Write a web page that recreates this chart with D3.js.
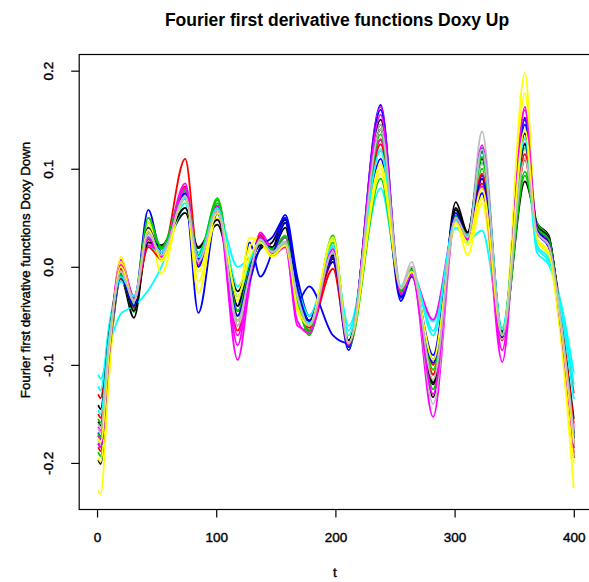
<!DOCTYPE html>
<html>
<head>
<meta charset="utf-8">
<script src="https://cdn.jsdelivr.net/npm/d3@7"></script>
<style>
  body { margin: 0; background: #fff; }
  svg { display: block; }
  text { font-family: "Liberation Sans", Arial, Helvetica, sans-serif; fill: #000; }
  .lbl { stroke: #000; stroke-width: 0.4px; }
</style>
</head>
<body>
<svg id="chart" width="589" height="582"></svg>
<script>
const tKnots = [1, 3, 10, 20, 31, 43, 54, 74, 85, 101, 118, 128, 137, 147, 158, 168, 178, 198, 211, 238, 255, 264, 282, 301, 311, 323, 340, 359, 369, 379, 389, 400];

const black1 = [-0.197,-0.201,-0.100,-0.012,-0.052,0.030,0.020,0.055,0.019,0.043,-0.030,-0.005,0.018,0.025,0.048,-0.015,-0.055,0.010,-0.080,0.145,-0.025,0.000,-0.133,0.066,0.035,0.121,-0.070,0.087,0.045,0.032,-0.062,-0.195];
const red1 = [-0.130,-0.134,-0.066,-0.008,-0.030,0.030,0.010,0.110,0.010,0.062,-0.060,-0.010,0.033,0.015,0.020,-0.030,-0.062,0.005,-0.078,0.130,-0.022,-0.005,-0.110,0.050,0.030,0.090,-0.072,0.109,0.035,0.022,-0.041,-0.129];
const green1 = [-0.155,-0.159,-0.078,-0.005,-0.046,0.045,0.015,0.082,0.008,0.070,-0.050,-0.005,0.025,0.012,0.030,-0.030,-0.070,0.032,-0.080,0.140,-0.025,-0.005,-0.118,0.052,0.030,0.106,-0.070,0.121,0.045,0.030,-0.054,-0.170];
const blue1 = [-0.169,-0.173,-0.085,-0.005,-0.035,0.058,0.015,0.070,-0.047,0.055,-0.040,0.025,-0.010,0.015,0.053,-0.010,-0.050,0.005,-0.085,0.165,-0.032,-0.008,-0.095,0.055,0.025,0.093,-0.070,0.152,0.040,0.025,-0.054,-0.170];
const cyan1 = [-0.110,-0.114,-0.082,-0.048,-0.040,-0.024,0.000,0.060,0.015,0.055,0.000,0.010,0.025,0.018,0.020,-0.020,-0.050,0.015,-0.060,0.080,-0.020,-0.010,-0.056,0.040,0.027,0.037,-0.062,0.125,0.015,0.002,-0.035,-0.108];
const magenta1 = [-0.163,-0.167,-0.082,0.007,-0.032,0.025,0.012,0.080,0.000,0.060,-0.095,-0.020,0.035,0.020,0.022,-0.060,-0.065,0.020,-0.082,0.163,-0.028,-0.005,-0.153,0.050,0.030,0.082,-0.097,0.163,0.038,0.025,-0.056,-0.175];
const yellow1 = [-0.228,-0.232,-0.115,0.010,-0.039,0.040,-0.007,0.075,-0.027,0.058,-0.035,0.030,0.025,0.010,0.020,-0.040,-0.060,0.030,-0.075,0.100,-0.025,-0.008,-0.100,0.045,0.012,0.065,-0.075,0.198,0.030,0.012,-0.072,-0.226];
const gray1 = [-0.177,-0.181,-0.088,-0.003,-0.035,0.030,0.012,0.076,0.008,0.058,-0.055,-0.008,0.028,0.015,0.025,-0.030,-0.062,0.015,-0.078,0.155,-0.020,0.005,-0.125,0.055,0.030,0.138,-0.072,0.120,0.038,0.025,-0.056,-0.175];
const black2 = [-0.158,-0.162,-0.079,-0.008,-0.040,0.035,0.020,0.072,0.012,0.055,-0.040,0.000,0.025,0.018,0.040,-0.035,-0.058,0.008,-0.078,0.150,-0.028,-0.002,-0.118,0.058,0.032,0.110,-0.068,0.136,0.042,0.030,-0.054,-0.170];
const red2 = [-0.184,-0.188,-0.092,-0.012,-0.042,0.028,0.012,0.082,0.005,0.062,-0.065,-0.012,0.030,0.012,0.022,-0.035,-0.065,-0.002,-0.080,0.130,-0.025,-0.005,-0.110,0.048,0.028,0.085,-0.075,0.110,0.035,0.022,-0.061,-0.190];
const green2 = [-0.189,-0.193,-0.095,-0.010,-0.045,0.040,0.018,0.080,0.010,0.065,-0.055,-0.008,0.028,0.016,0.030,-0.030,-0.068,0.025,-0.082,0.090,-0.025,-0.005,-0.125,0.050,0.032,0.100,-0.072,0.093,0.040,0.028,-0.059,-0.185];
const blue2 = [-0.172,-0.176,-0.086,-0.006,-0.038,0.030,0.010,0.070,0.008,0.055,-0.045,-0.015,0.020,0.030,0.050,-0.035,-0.020,-0.070,-0.078,0.110,-0.035,-0.010,-0.090,0.052,0.028,0.075,-0.072,0.145,0.035,0.020,-0.056,-0.175];
const cyan2 = [-0.122,-0.126,-0.061,-0.015,-0.030,0.020,0.015,0.065,0.010,0.058,-0.020,0.005,0.025,0.020,0.022,-0.025,-0.058,0.020,-0.065,0.120,-0.020,-0.005,-0.070,0.045,0.032,0.116,-0.065,0.131,0.020,0.005,-0.038,-0.120];
const magenta2 = [-0.172,-0.176,-0.086,0.005,-0.030,0.022,0.015,0.085,0.002,0.062,-0.070,-0.010,0.032,0.018,0.030,-0.035,-0.060,0.015,-0.078,0.130,-0.025,-0.008,-0.054,0.045,0.028,0.124,-0.068,0.126,0.035,0.022,-0.053,-0.165];
const yellow2 = [-0.195,-0.199,-0.098,0.005,-0.035,0.045,0.005,0.070,-0.015,0.050,-0.025,0.020,0.030,0.012,0.020,-0.045,-0.060,0.028,-0.078,0.095,-0.022,-0.005,-0.105,0.045,0.022,0.070,-0.070,0.177,0.028,0.010,-0.064,-0.200];
const gray2 = [-0.165,-0.169,-0.083,-0.005,-0.038,0.032,0.012,0.074,0.006,0.060,-0.060,-0.010,0.030,0.016,0.026,-0.030,-0.060,0.018,-0.080,0.145,-0.022,0.000,-0.140,0.050,0.030,0.105,-0.074,0.115,0.035,0.022,-0.058,-0.180];
const black3 = [-0.141,-0.145,-0.071,-0.010,-0.045,0.025,0.022,0.060,0.020,0.048,-0.025,0.002,0.022,0.020,0.045,-0.030,-0.055,0.012,-0.075,0.140,-0.030,-0.005,-0.120,0.060,0.035,0.118,-0.066,0.125,0.040,0.028,-0.050,-0.155];
const red3 = [-0.150,-0.154,-0.075,-0.002,-0.035,0.020,0.008,0.078,0.005,0.058,-0.050,-0.005,0.032,0.012,0.025,-0.028,-0.062,0.010,-0.080,0.125,-0.025,-0.005,-0.100,0.050,0.030,0.095,-0.070,0.115,0.036,0.024,-0.051,-0.160];
const green3 = [-0.170,-0.174,-0.085,-0.008,-0.040,0.050,0.020,0.078,0.012,0.068,-0.045,-0.002,0.025,0.018,0.032,-0.035,-0.066,0.030,-0.078,0.135,-0.025,-0.003,-0.105,0.052,0.030,0.112,-0.068,0.097,0.040,0.028,-0.056,-0.175];
const blue3 = [-0.180,-0.184,-0.090,-0.010,-0.040,0.040,0.012,0.075,0.000,0.060,-0.050,-0.005,0.030,0.015,0.045,-0.020,-0.055,0.010,-0.082,0.160,-0.030,-0.008,-0.098,0.055,0.028,0.090,-0.072,0.150,0.038,0.024,-0.058,-0.180];
const cyan3 = [-0.146,-0.150,-0.073,-0.010,-0.030,0.030,0.015,0.070,0.010,0.060,-0.030,0.005,0.025,0.015,0.025,-0.030,-0.060,0.022,-0.070,0.118,-0.022,-0.005,-0.065,0.048,0.030,0.120,-0.064,0.131,0.022,0.008,-0.043,-0.135];
const magenta3 = [-0.180,-0.184,-0.090,0.002,-0.035,0.030,0.010,0.080,0.005,0.058,-0.080,-0.012,0.030,0.012,0.020,-0.055,-0.068,0.018,-0.080,0.155,-0.028,-0.008,-0.130,0.050,0.028,0.082,-0.085,0.160,0.036,0.022,-0.059,-0.185];
const yellow3 = [-0.175,-0.179,-0.088,0.000,-0.035,0.038,0.008,0.072,-0.005,0.055,-0.030,0.010,0.025,0.012,0.022,-0.040,-0.060,0.030,-0.078,0.105,-0.022,-0.005,-0.095,0.045,0.025,0.080,-0.070,0.140,0.030,0.015,-0.058,-0.180];
const gray3 = [-0.160,-0.164,-0.080,-0.005,-0.035,0.035,0.012,0.072,0.005,0.058,-0.055,-0.008,0.028,0.015,0.025,-0.030,-0.060,0.015,-0.078,0.140,-0.022,0.000,-0.115,0.050,0.030,0.120,-0.070,0.110,0.035,0.022,-0.054,-0.170];

const curves = [black1, red1, green1, blue1, cyan1, magenta1, yellow1, gray1,
                black2, red2, green2, blue2, cyan2, magenta2, yellow2, gray2,
                black3, red3, green3, blue3, cyan3, magenta3, yellow3, gray3];

// R's default palette, recycled over the curves
const palette = ["#000000", "#FF0000", "#00CD00", "#0000FF", "#00FFFF", "#FF00FF", "#FFFF00", "#BEBEBE"];

const xTicks = [0, 100, 200, 300, 400];
const yTicks = [-0.2, -0.1, 0, 0.1, 0.2];
const yTickLabels = ["-0.2", "-0.1", "0.0", "0.1", "0.2"];

const svg = d3.select("#chart");
const plot = { left: 79.2, right: 592.8, top: 54.5, bottom: 509.5 };

const x = d3.scaleLinear().domain([-14.96, 415.96]).range([plot.left, plot.right]);
const y = d3.scaleLinear().domain([-0.2475, 0.2165]).range([plot.bottom, plot.top]);

const line = d3.line()
  .x(d => x(d[0]))
  .y(d => y(d[1]))
  .curve(d3.curveMonotoneX);

svg.append("g")
  .selectAll("path")
  .data(curves)
  .join("path")
  .attr("d", vals => line(vals.map((v, i) => [tKnots[i], v])))
  .attr("fill", "none")
  .attr("stroke", (d, i) => palette[i % palette.length])
  .attr("stroke-width", 1.8)
  .attr("stroke-linejoin", "round");

// box
svg.append("rect")
  .attr("x", plot.left)
  .attr("y", plot.top)
  .attr("width", plot.right - plot.left)
  .attr("height", plot.bottom - plot.top)
  .attr("fill", "none")
  .attr("stroke", "#000")
  .attr("stroke-width", 1.2);

// x axis
const gx = svg.append("g")
  .attr("transform", `translate(0,${plot.bottom})`)
  .call(d3.axisBottom(x).tickValues(xTicks).tickSize(8).tickFormat(d3.format("d")));
gx.select(".domain").remove();
gx.selectAll("line").attr("stroke", "#000").attr("stroke-width", 1.2);
gx.selectAll("text")
  .attr("class", "lbl")
  .attr("y", 32.5)
  .attr("dy", null)
  .attr("font-size", 13.5)
  .attr("fill", "#000");

// y axis, labels parallel to the axis
const gy = svg.append("g")
  .attr("transform", `translate(${plot.left},0)`)
  .call(d3.axisLeft(y).tickValues(yTicks).tickSize(8).tickFormat((d, i) => yTickLabels[i]));
gy.select(".domain").remove();
gy.selectAll("line").attr("stroke", "#000").attr("stroke-width", 1.2);
gy.selectAll("text")
  .attr("class", "lbl")
  .attr("transform", "rotate(-90)")
  .attr("x", 0)
  .attr("y", -26)
  .attr("dy", null)
  .attr("text-anchor", "middle")
  .attr("font-size", 13.5)
  .attr("fill", "#000");

// titles
svg.append("text")
  .attr("x", 337)
  .attr("y", 26)
  .attr("text-anchor", "middle")
  .attr("font-size", 17.5)
  .attr("font-weight", "bold")
  .text("Fourier first derivative functions Doxy Up");

svg.append("text")
  .attr("class", "lbl")
  .attr("x", 335)
  .attr("y", 577)
  .attr("text-anchor", "middle")
  .attr("font-size", 13.5)
  .text("t");

svg.append("text")
  .attr("class", "lbl")
  .attr("transform", "rotate(-90)")
  .attr("x", -270)
  .attr("y", 30)
  .attr("text-anchor", "middle")
  .attr("font-size", 13.3)
  .text("Fourier first derivative functions Doxy Down");
</script>
</body>
</html>
